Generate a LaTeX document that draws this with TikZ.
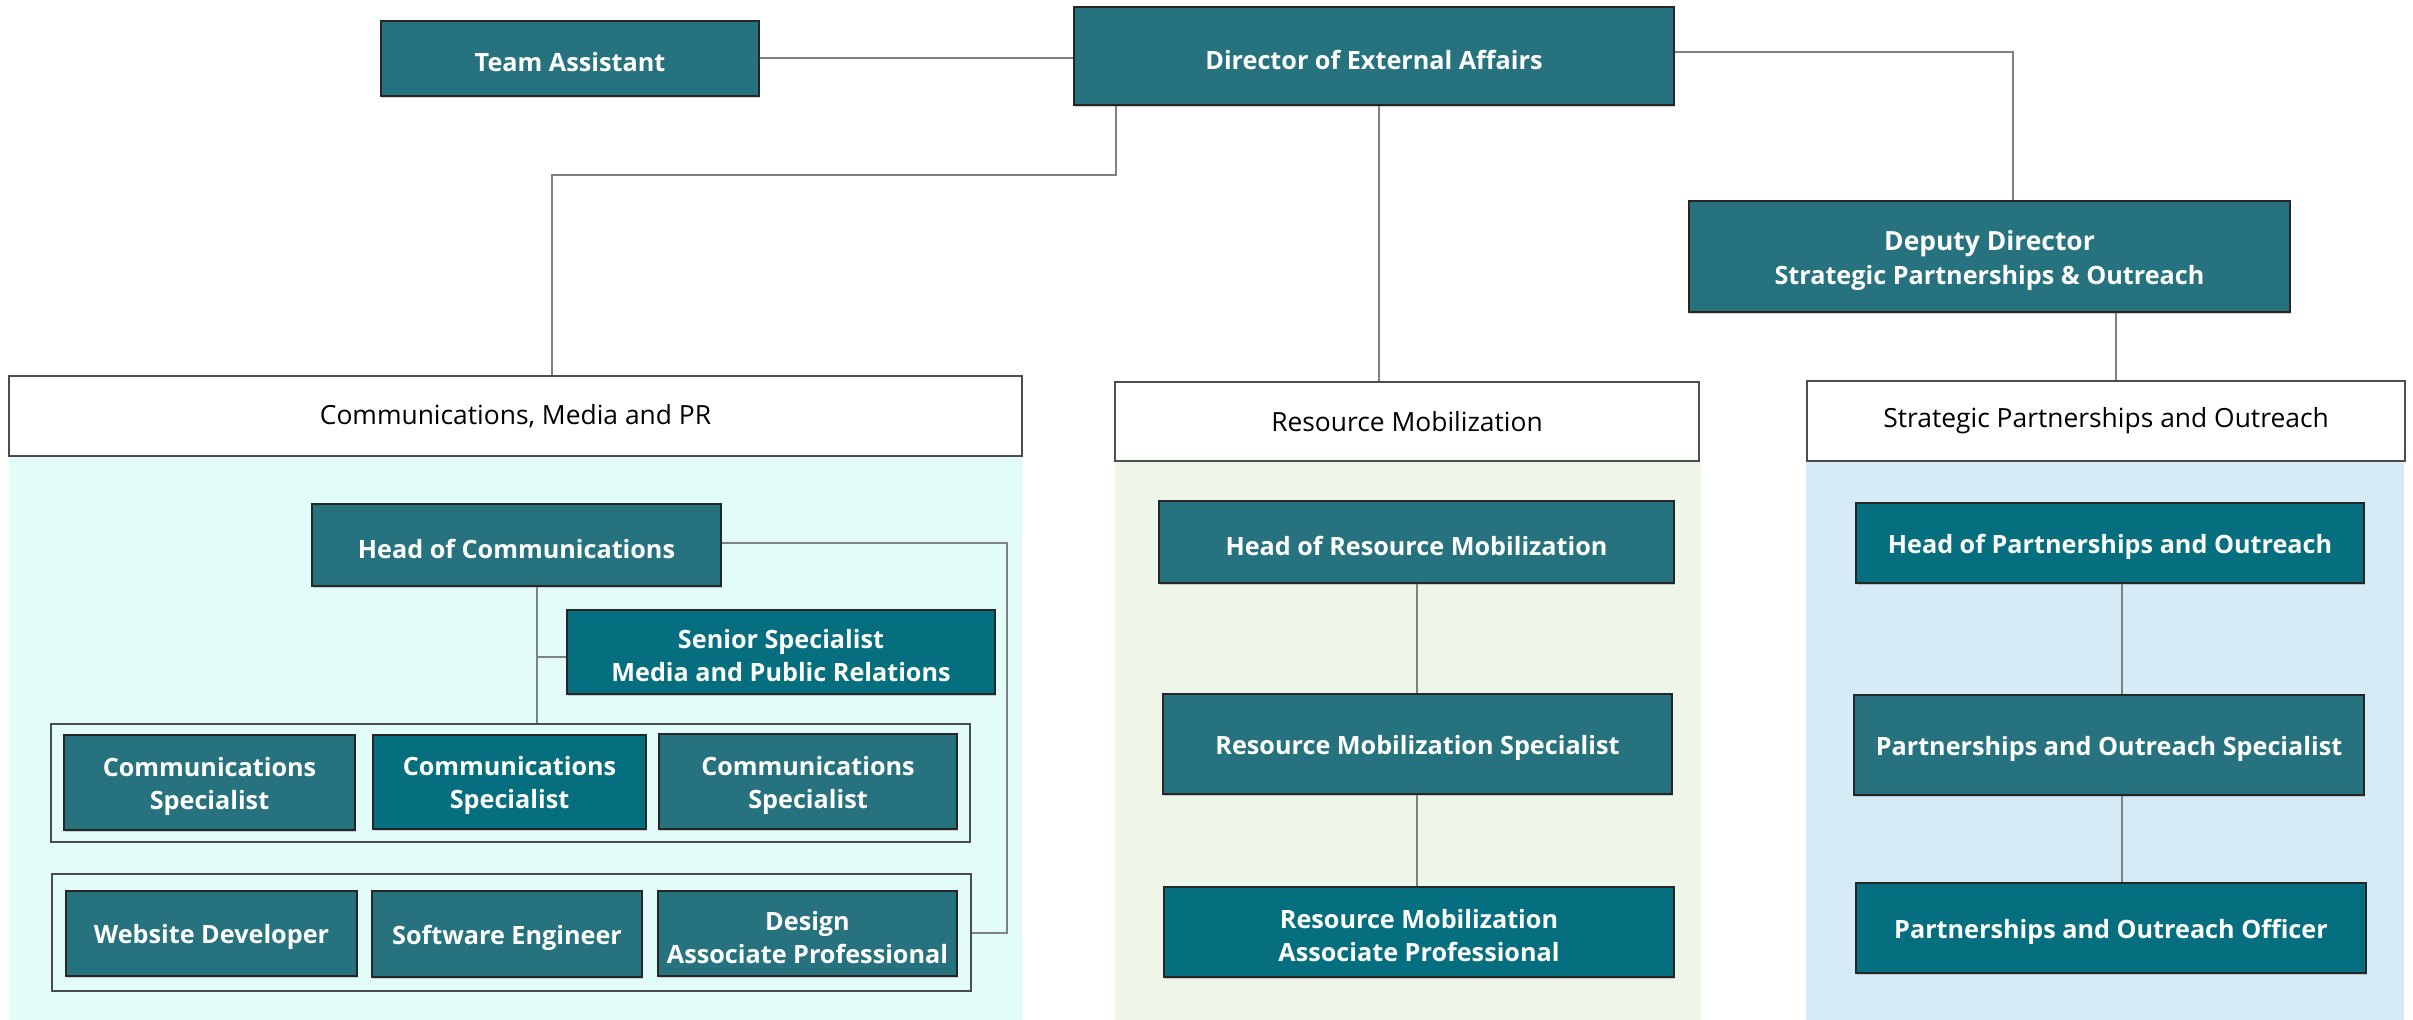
\documentclass[tikz,border=0pt]{standalone}
\usepackage{fontspec}
\setmainfont{Open Sans}
\usetikzlibrary{calc,shadows}
\definecolor{tealA}{HTML}{26737F}
\definecolor{tealB}{HTML}{056F80}
\definecolor{bgcyan}{HTML}{E1FCF9}
\definecolor{bggreen}{HTML}{EEF5E9}
\definecolor{bgblue}{HTML}{D5ECF6}
\definecolor{conn}{HTML}{808080}
\newcommand\mybox[7]{\node[#1, minimum width={(#4-#3)*0.5pt}, minimum height={(#6-#5)*0.5pt}] (#2) at ({(#3+#4)/2},{(#5+#6)/2}) {#7};}
\newcommand\rolebox[7]{\node[#1, minimum width={(#4-#3)*0.5pt}, minimum height={(#6-#5)*0.5pt}] (#2) at ({(#3+#4)/2},{(#5+#6)/2}) {};
  \node[rtext] (#2-t) at ([yshift=-1.8pt]#2.center) {#7};}
\tikzset{
  role/.style={draw=black!85, line width=0.8pt, fill=tealA, inner sep=0pt,
    drop shadow={shadow xshift=0.5pt, shadow yshift=-0.8pt, opacity=0.35}},
  roledark/.style={role, fill=tealB},
  rtext/.style={text=white, font=\fontsize{12.6}{16.5}\selectfont\bfseries,
    align=center, inner sep=0pt},
  header/.style={draw=black!70, line width=0.8pt, fill=white,
    font=\fontsize{13.2}{16}\selectfont, inner sep=0pt},
  grp/.style={draw=black!70, line width=0.8pt, inner sep=0pt},
  link/.style={draw=conn, line width=1pt},
}
\begin{document}
\begin{tikzpicture}[x=0.5pt, y=-0.5pt]
\fill[white] (0,0) rectangle (2413,1020);
\useasboundingbox (0,0) rectangle (2413,1020);
% section backgrounds
\fill[bgcyan] (9,456) rectangle (1022,1020);
\fill[bggreen] (1115,461) rectangle (1701,1020);
\fill[bgblue] (1806,461) rectangle (2404,1020);
% top level
\rolebox{role}{ta}{381}{759}{21}{96}{Team Assistant}
\rolebox{role}{dir}{1074}{1674}{7}{105}{Director of External Affairs}
\rolebox{role}{dep}{1689}{2290}{201}{312}{{\fontsize{13.2}{16}\selectfont Deputy Director}\\[0.5pt]Strategic Partnerships \& Outreach}
% headers
\mybox{header}{cmpr}{9}{1022}{376}{456}{Communications, Media and PR}
\mybox{header}{rm}{1115}{1699}{382}{461}{Resource Mobilization}
\mybox{header}{spo}{1807}{2405}{381}{461}{Strategic Partnerships and Outreach}
% communications
\rolebox{role}{hoc}{312}{721}{504}{586}{Head of Communications}
\rolebox{roledark}{sen}{567}{995}{610}{694}{Senior Specialist\\Media and Public Relations}
\mybox{grp}{g1}{51}{970}{724}{842}{}
\mybox{grp}{g2}{52}{971}{874}{991}{}
\rolebox{role}{cs1}{64}{355}{735}{830}{Communications\\Specialist}
\rolebox{roledark}{cs2}{373}{646}{735}{829}{Communications\\Specialist}
\rolebox{role}{cs3}{659}{957}{734}{829}{Communications\\Specialist}
\rolebox{role}{wd}{66}{357}{891}{976}{Website Developer}
\rolebox{role}{se}{372}{642}{891}{977}{Software Engineer}
\rolebox{role}{des}{658}{957}{891}{976}{Design\\Associate Professional}
% resource mobilization
\rolebox{role}{hrm}{1159}{1674}{501}{583}{Head of Resource Mobilization}
\rolebox{role}{rms}{1163}{1672}{694}{794}{Resource Mobilization Specialist}
\rolebox{roledark}{rma}{1164}{1674}{887}{977}{Resource Mobilization\\Associate Professional}
% partnerships
\rolebox{roledark}{hpo}{1856}{2364}{503}{583}{Head of Partnerships and Outreach}
\rolebox{role}{pos}{1854}{2364}{695}{795}{Partnerships and Outreach Specialist}
\rolebox{roledark}{poo}{1856}{2366}{883}{973}{Partnerships and Outreach Officer}
% connectors
\coordinate (dA) at (1116,175);
\coordinate (dB) at (552,175);
\coordinate (dC) at (2013,52);
\coordinate (dD) at (1379,0);
\coordinate (dE) at (2116,0);
\coordinate (cA) at (537,657);
\coordinate (cB) at (1007,543);
\coordinate (cC) at (1007,933);
\coordinate (rA) at (1417,0);
\coordinate (pA) at (2122,0);
\draw[link] (ta.east) -- (ta.east -| dir.west);
\draw[link] (dA |- dir.south) -- (dA) -- (dB) -- (dB |- cmpr.north);
\draw[link] (dC -| dir.east) -- (dC) -- (dC |- dep.north);
\draw[link] (dD |- dir.south) -- (dD |- rm.north);
\draw[link] (dE |- dep.south) -- (dE |- spo.north);
\draw[link] (cA |- hoc.south) -- (cA |- g1.north);
\draw[link] (cA) -- (cA -| sen.west);
\draw[link] (cB -| hoc.east) -- (cB) -- (cC) -- (cC -| g2.east);
\draw[link] (rA |- hrm.south) -- (rA |- rms.north);
\draw[link] (rA |- rms.south) -- (rA |- rma.north);
\draw[link] (pA |- hpo.south) -- (pA |- pos.north);
\draw[link] (pA |- pos.south) -- (pA |- poo.north);
\end{tikzpicture}
\end{document}
